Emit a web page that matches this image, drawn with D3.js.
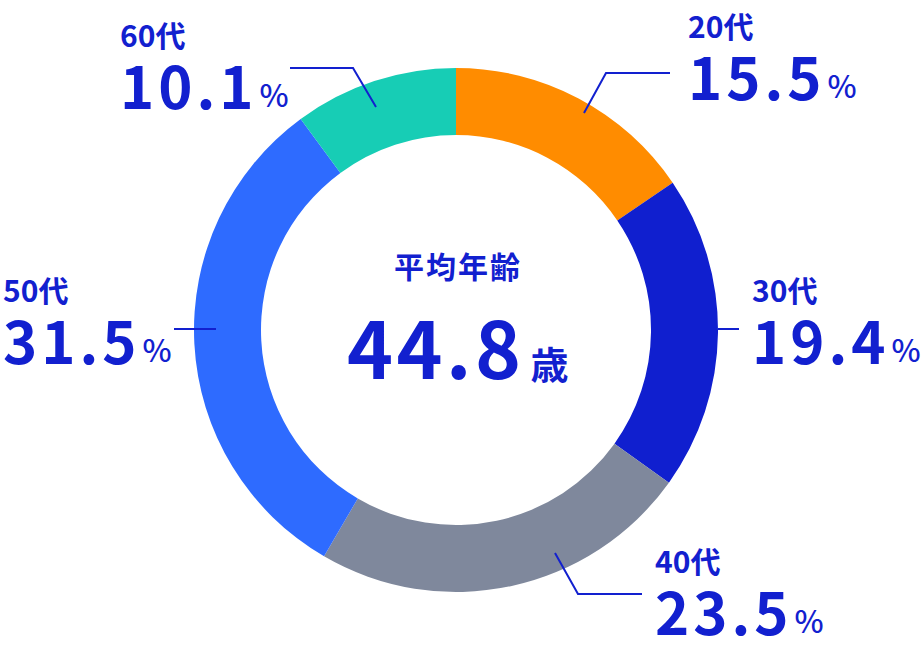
<!DOCTYPE html>
<html lang="ja">
<head>
    <meta charset="UTF-8">
    <script src="https://cdnjs.cloudflare.com/ajax/libs/d3/7.8.5/d3.min.js"></script>
    <style>
        body { margin: 0; background: #fff; }
        text { font-family: "Noto Sans CJK JP", "Noto Sans", sans-serif; fill: #1220cf; }
    </style>
</head>
<body>
    <svg id="chart" width="922" height="654"></svg>
    <script>
        // data
        const ageGroups = ['20代', '30代', '40代', '50代', '60代'];
        const shares = [15.5, 19.4, 23.5, 31.5, 10.1];
        const sliceColors = ['#ff8c00', '#101fcf', '#7f889c', '#2e6bff', '#17cdb5'];
        const centerTitle = '平均年齢';
        const averageAge = 44.8;
        const ageUnit = '歳';

        // label layout: text anchor + leader line (start, elbow, end)
        const labelLayout = {
            '20代': { x: 688, y: 38, line: [[584, 113], [606, 73], [670, 73]] },
            '30代': { x: 752, y: 302, line: [[718, 329], [739, 329]] },
            '40代': { x: 655, y: 573, line: [[555, 553], [578, 594], [642, 594]] },
            '50代': { x: 3, y: 302, line: [[216, 329], [174, 329]] },
            '60代': { x: 120, y: 47, line: [[376, 107], [353, 68], [290, 68]] }
        };

        const cx = 456, cy = 330;
        const outerR = 262, innerR = 195;

        const svg = d3.select('#chart');
        const g = svg.append('g').attr('transform', `translate(${cx},${cy})`);

        const pie = d3.pie().sort(null).value(d => d.share);
        const arc = d3.arc().innerRadius(innerR).outerRadius(outerR);

        const rows = ageGroups.map((k, i) => ({ key: k, share: shares[i], color: sliceColors[i] }));

        g.selectAll('path.slice')
            .data(pie(rows))
            .enter()
            .append('path')
            .attr('class', 'slice')
            .attr('d', arc)
            .attr('fill', d => d.data.color);

        // center text
        svg.append('text')
            .attr('x', 458)
            .attr('y', 278)
            .attr('text-anchor', 'middle')
            .style('font-size', '30px')
            .style('font-weight', 700)
            .style('letter-spacing', '2px')
            .text(centerTitle);

        const avg = svg.append('text')
            .attr('x', 347)
            .attr('y', 379);
        avg.append('tspan')
            .style('font-size', '78px')
            .style('font-weight', 700)
            .style('letter-spacing', '3.5px')
            .text(averageAge.toFixed(1));
        avg.append('tspan')
            .attr('dx', 6)
            .style('font-size', '38px')
            .style('font-weight', 700)
            .text(ageUnit);

        // labels + leader lines
        const line = d3.line();
        rows.forEach(r => {
            const L = labelLayout[r.key];
            svg.append('path')
                .attr('d', line(L.line))
                .attr('fill', 'none')
                .attr('stroke', '#1220cf')
                .attr('stroke-width', 2);

            svg.append('text')
                .attr('x', L.x)
                .attr('y', L.y)
                .style('font-size', '30px')
                .style('font-weight', 700)
                .text(r.key);

            const v = svg.append('text')
                .attr('x', L.x)
                .attr('y', L.y + 62);
            v.append('tspan')
                .style('font-size', '58px')
                .style('font-weight', 700)
                .style('letter-spacing', '4px')
                .text(r.share.toFixed(1));
            v.append('tspan')
                .attr('dx', 2)
                .attr('dy', -2)
                .style('font-size', '31px')
                .style('font-weight', 500)
                .text('%');
        });
    </script>
</body>
</html>
